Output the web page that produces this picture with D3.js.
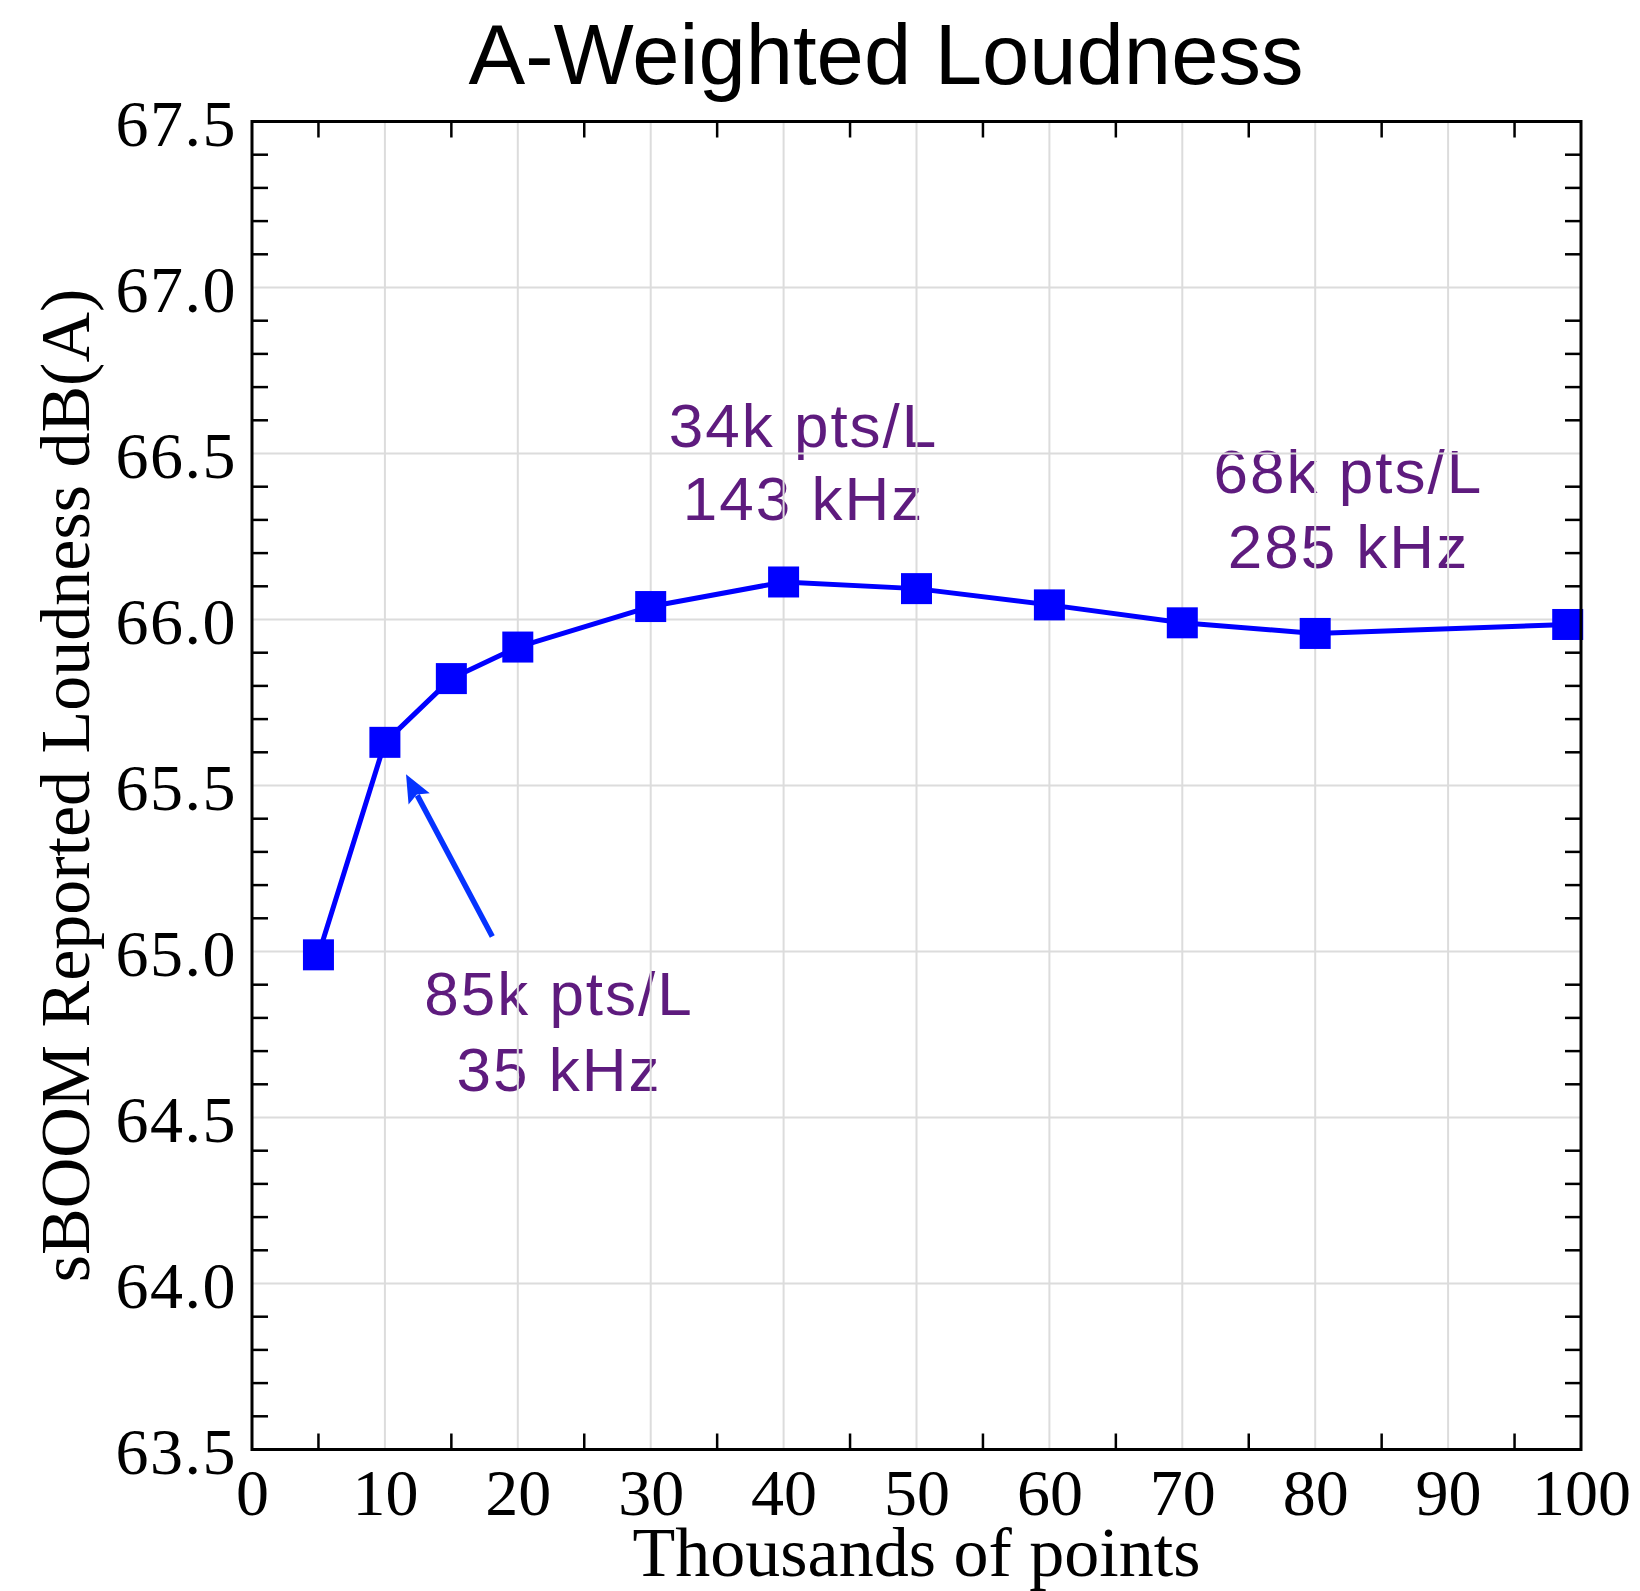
<!DOCTYPE html>
<html>
<head>
<meta charset="utf-8">
<script src="https://cdn.jsdelivr.net/npm/d3@7"></script>
<style>
  html, body { margin: 0; padding: 0; background: #fff; }
  svg { display: block; }
</style>
</head>
<body>
<svg id="chart" width="1640" height="1591"></svg>
<script>
// ---- data ----
const pointsK = [5, 10, 15, 20, 30, 40, 50, 60, 70, 80, 99];
const loudness = [64.99, 65.63, 65.822, 65.917, 66.039, 66.113, 66.093, 66.044, 65.99, 65.958, 65.985];
const xTicks = [0, 10, 20, 30, 40, 50, 60, 70, 80, 90, 100];
const yTicks = [63.5, 64.0, 64.5, 65.0, 65.5, 66.0, 66.5, 67.0, 67.5];
const xMinorTicks = [5, 15, 25, 35, 45, 55, 65, 75, 85, 95];
const yMinorTicks = d3.range(63.6, 67.45, 0.1).filter(v => Math.abs(v * 2 - Math.round(v * 2)) > 1e-6);
const annoLines = [
  ["34k pts/L", 41.5, 66.52], ["143 kHz", 41.5, 66.30],
  ["68k pts/L", 82.5, 66.382], ["285 kHz", 82.5, 66.155],
  ["85k pts/L", 23.1, 64.81], ["35 kHz", 23.1, 64.58]
];
const arrowFrom = [18.08, 65.045];
const arrowTo = [11.59, 65.534];
const titleText = "A-Weighted Loudness";
const xTitle = "Thousands of points";
const yTitle = "sBOOM Reported Loudness dB(A)";

// ---- layout ----
const L = 252, R = 1581, T = 121.5, B = 1449.5;
const x = d3.scaleLinear().domain([0, 100]).range([L, R]);
const y = d3.scaleLinear().domain([63.5, 67.5]).range([B, T]);
const svg = d3.select("#chart");

const serif = "'Liberation Serif', 'Times New Roman', Times, serif";
const sans = "'Liberation Sans', Helvetica, Arial, sans-serif";

// annotations (drawn under gridlines, as in the reference)
svg.append("g").selectAll("text").data(annoLines).join("text")
  .attr("x", d => x(d[1])).attr("y", d => y(d[2]))
  .attr("text-anchor", "middle")
  .attr("font-family", sans).attr("font-size", 62)
  .attr("letter-spacing", 2)
  .attr("fill", "#5e1b7e")
  .text(d => d[0]);

// gridlines
const grid = svg.append("g").attr("stroke", "#dcdcdc").attr("stroke-width", 2);
grid.selectAll("line.gx").data(xTicks.slice(1, -1)).join("line")
  .attr("x1", d => x(d)).attr("x2", d => x(d)).attr("y1", T).attr("y2", B);
grid.selectAll("line.gy").data(yTicks.slice(1, -1)).join("line")
  .attr("y1", d => y(d)).attr("y2", d => y(d)).attr("x1", L).attr("x2", R);

// minor ticks (inward, all four sides)
const tk = svg.append("g").attr("stroke", "#000").attr("stroke-width", 2.5);
const tl = 16;
xMinorTicks.forEach(v => {
  tk.append("line").attr("x1", x(v)).attr("x2", x(v)).attr("y1", B).attr("y2", B - tl);
  tk.append("line").attr("x1", x(v)).attr("x2", x(v)).attr("y1", T).attr("y2", T + tl);
});
yMinorTicks.forEach(v => {
  tk.append("line").attr("y1", y(v)).attr("y2", y(v)).attr("x1", L).attr("x2", L + tl);
  tk.append("line").attr("y1", y(v)).attr("y2", y(v)).attr("x1", R).attr("x2", R - tl);
});

// data line
const pts = pointsK.map((k, i) => [k, loudness[i]]);
svg.append("path").datum(pts)
  .attr("d", d3.line().x(d => x(d[0])).y(d => y(d[1])))
  .attr("fill", "none").attr("stroke", "#0000ff").attr("stroke-width", 5)
  .attr("stroke-linejoin", "round");

// markers
const ms = 31;
svg.append("g").selectAll("rect").data(pts).join("rect")
  .attr("x", d => x(d[0]) - ms / 2).attr("y", d => y(d[1]) - ms / 2)
  .attr("width", ms).attr("height", ms).attr("fill", "#0000ff");

// arrow
const ax0 = x(arrowFrom[0]), ay0 = y(arrowFrom[1]);
const ax1 = x(arrowTo[0]), ay1 = y(arrowTo[1]);
const dx = ax1 - ax0, dy = ay1 - ay0, len = Math.hypot(dx, dy);
const ux = dx / len, uy = dy / len;
const hl = 28, hw = 12;
const bx = ax1 - ux * hl, by = ay1 - uy * hl;
svg.append("line")
  .attr("x1", ax0).attr("y1", ay0).attr("x2", bx + ux * 4).attr("y2", by + uy * 4)
  .attr("stroke", "#0533ff").attr("stroke-width", 5.5);
svg.append("path")
  .attr("d", `M${ax1},${ay1} L${bx - uy * hw},${by + ux * hw} L${bx + ux * 5},${by + uy * 5} L${bx + uy * hw},${by - ux * hw} Z`)
  .attr("fill", "#0533ff");

// frame
svg.append("rect").attr("x", L).attr("y", T).attr("width", R - L).attr("height", B - T)
  .attr("fill", "none").attr("stroke", "#000").attr("stroke-width", 3);

// axes tick labels (via d3 axes, without lines)
const xAxis = svg.append("g").attr("transform", `translate(0,${B})`)
  .call(d3.axisBottom(x).tickValues(xTicks).tickFormat(d3.format("d")).tickSize(0).tickPadding(0));
xAxis.select(".domain").remove();
xAxis.selectAll("text").attr("font-family", serif).attr("font-size", 66)
  .attr("fill", "#000").attr("dy", null).attr("y", 65);

const yAxis = svg.append("g").attr("transform", `translate(${L},0)`)
  .call(d3.axisLeft(y).tickValues(yTicks).tickFormat(d3.format(".1f")).tickSize(0).tickPadding(0));
yAxis.select(".domain").remove();
yAxis.selectAll("text").attr("font-family", serif).attr("font-size", 66)
  .attr("fill", "#000").attr("x", -15).attr("dy", "0.36em").attr("letter-spacing", 1.5);

// titles
svg.append("text").attr("x", 886).attr("y", 84).attr("text-anchor", "middle")
  .attr("font-family", sans).attr("font-size", 85).attr("fill", "#000").text(titleText);
svg.append("text").attr("x", (L + R) / 2).attr("y", 1576).attr("text-anchor", "middle")
  .attr("font-family", serif).attr("font-size", 70).attr("fill", "#000").text(xTitle);
svg.append("text").attr("transform", `translate(89,${(T + B) / 2}) rotate(-90)`)
  .attr("text-anchor", "middle")
  .attr("font-family", serif).attr("font-size", 70).attr("fill", "#000").text(yTitle);
</script>
</body>
</html>
